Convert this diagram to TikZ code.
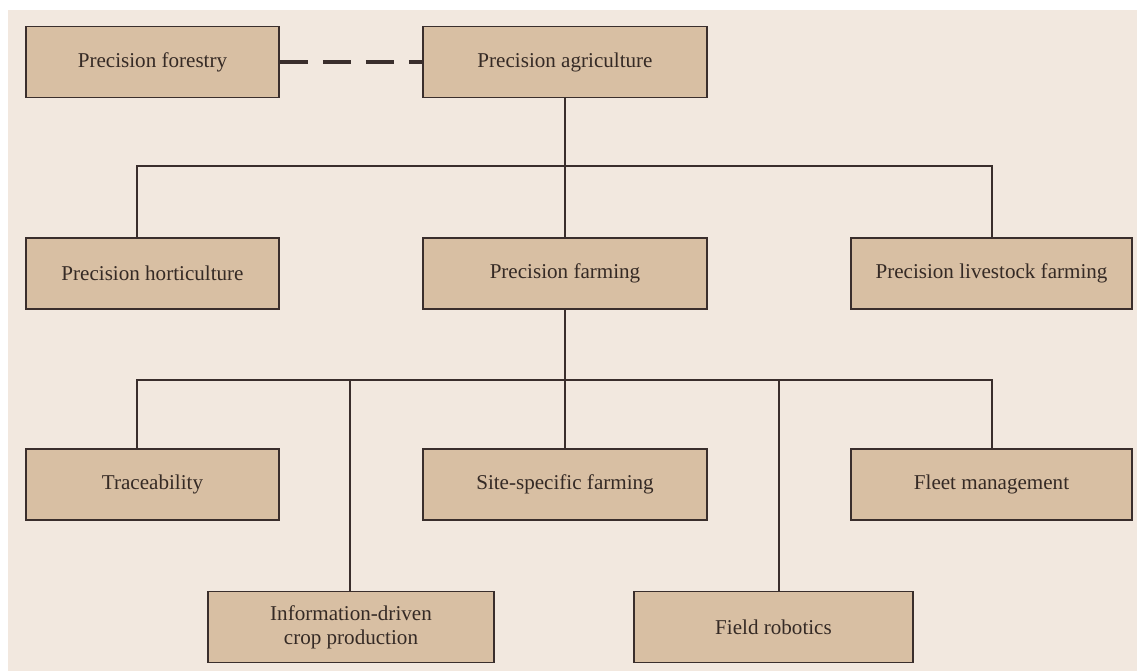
\documentclass[tikz,border=0pt]{standalone}
\usepackage{fontspec}
\setmainfont{Liberation Serif}
\begin{document}
\begin{tikzpicture}[>=latex,thick,
  box/.style={draw=linecol,line width=1pt,fill=boxcol,minimum height=1.42cm,
    text=txtcol,font=\fontsize{12}{13.5}\selectfont,align=center,inner sep=0pt},
  link/.style={draw=linecol,line width=0.9pt}]
\definecolor{bgcol}{HTML}{F2E8DF}
\definecolor{boxcol}{HTML}{D8BFA3}
\definecolor{linecol}{HTML}{3A2E2C}
\definecolor{txtcol}{HTML}{352A25}
\useasboundingbox (0,0) rectangle (22.74,13.42);
\fill[bgcol] (0.16,0) rectangle (22.74,13.22);
% top row
\node[box,minimum width=5.06cm] (forest) at (3.05,12.18) {Precision forestry};
\node[box,minimum width=5.68cm] (agri) at (11.3,12.18) {Precision agriculture};
% second row
\node[box,minimum width=5.06cm] (hort) at (3.05,7.95) {Precision horticulture};
\node[box,minimum width=5.68cm] (farm) at (11.3,7.95) {Precision farming};
\node[box,minimum width=5.62cm] (live) at (19.83,7.95) {Precision livestock farming};
% third row
\node[box,minimum width=5.06cm] (trace) at (3.05,3.73) {Traceability};
\node[box,minimum width=5.68cm] (site) at (11.3,3.73) {Site-specific farming};
\node[box,minimum width=5.62cm] (fleet) at (19.83,3.73) {Fleet management};
% bottom row
\node[box,minimum width=5.72cm] (info) at (7.02,0.88) {Information-driven\\crop production};
\node[box,minimum width=5.58cm] (robot) at (15.47,0.88) {Field robotics};
% dashed link
\draw[draw=linecol,line width=2pt,dash pattern=on 0.56cm off 0.3cm] (forest.east) -- (agri.west);
% first tree
\coordinate (bar1) at (11.3,10.1);
\draw[link] (agri.south) -- (bar1);
\draw[link] (bar1) -| ([xshift=-0.31cm]hort.north);
\draw[link] (bar1) -| ([xshift=0.01cm]live.north);
\draw[link] (bar1) -- (farm.north);
% second tree
\coordinate (bar2) at (11.3,5.82);
\draw[link] (farm.south) -- (bar2);
\draw[link] (bar2) -| ([xshift=-0.31cm]trace.north);
\draw[link] (bar2) -| ([xshift=0.01cm]fleet.north);
\draw[link] (bar2) -- (site.north);
\draw[link] (bar2) -| ([xshift=-0.02cm]info.north);
\draw[link] (bar2) -| ([xshift=0.11cm]robot.north);
\end{tikzpicture}
\end{document}
